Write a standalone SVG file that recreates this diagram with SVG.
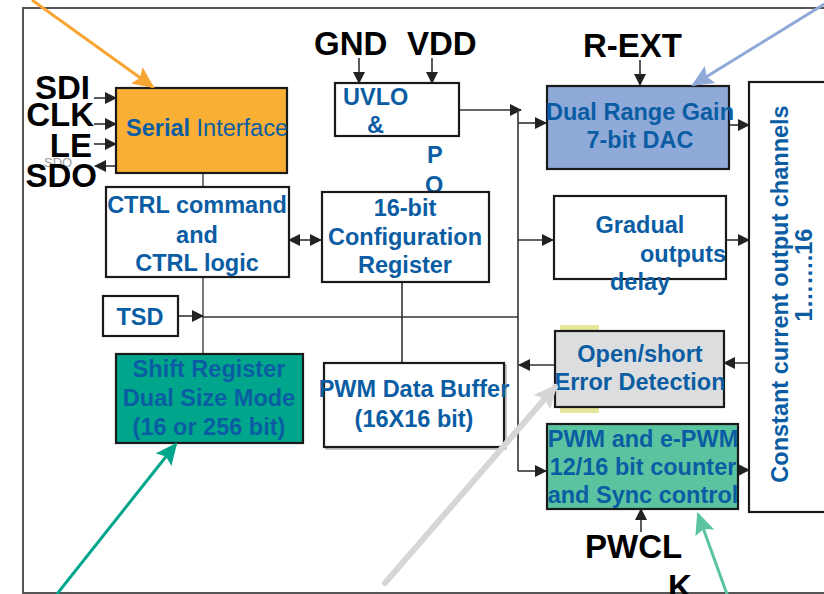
<svg xmlns="http://www.w3.org/2000/svg" width="824" height="594" viewBox="0 0 824 594">
<style>
.box{stroke:#1a1a1a;stroke-width:2.2}
.t{font-family:"Liberation Sans",Arial,sans-serif;font-weight:bold;font-size:23.5px;fill:#0B5DA3;text-anchor:middle}
.t.s{text-anchor:start}
.pin{font-family:"Liberation Sans",Arial,sans-serif;font-weight:bold;font-size:33px;fill:#000}
.ln{fill:none;stroke:#333;stroke-width:1.6}
.gl{fill:none;stroke:#7a7a7a;stroke-width:2}
</style>
<defs>
<marker id="ah" markerUnits="userSpaceOnUse" markerWidth="12" markerHeight="12" refX="11" refY="6" orient="auto-start-reverse">
<path d="M0,0 L12,6 L0,12 z" fill="#222"/>
</marker>
<marker id="ao" markerUnits="userSpaceOnUse" markerWidth="22" markerHeight="20" refX="20" refY="10" orient="auto">
<path d="M0,0 L22,10 L0,20 L4,10 z" fill="#F9A533"/>
</marker>
<marker id="ab" markerUnits="userSpaceOnUse" markerWidth="22" markerHeight="20" refX="20" refY="10" orient="auto">
<path d="M0,0 L22,10 L0,20 L4,10 z" fill="#8FA9D9"/>
</marker>
<marker id="at" markerUnits="userSpaceOnUse" markerWidth="22" markerHeight="20" refX="20" refY="10" orient="auto">
<path d="M0,0 L22,10 L0,20 L4,10 z" fill="#00A68C"/>
</marker>
<marker id="am" markerUnits="userSpaceOnUse" markerWidth="22" markerHeight="20" refX="20" refY="10" orient="auto">
<path d="M0,0 L22,10 L0,20 L4,10 z" fill="#5BC3A0"/>
</marker>
<marker id="ag" markerUnits="userSpaceOnUse" markerWidth="24" markerHeight="22" refX="20" refY="11" orient="auto">
<path d="M0,0 L24,11 L0,22 L4,11 z" fill="#D6D6D6"/>
</marker>
</defs>
<rect width="824" height="594" fill="#fff"/>
<rect x="23" y="8" width="830" height="585" fill="none" stroke="#555" stroke-width="2"/>

<g id="connectors">
<path class="ln" d="M94,98 H116" marker-end="url(#ah)"/>
<path class="ln" d="M94,124 H116" marker-end="url(#ah)"/>
<path class="ln" d="M94,144 H116" marker-end="url(#ah)"/>
<path class="ln" d="M116,166 H95" marker-end="url(#ah)"/>
<path class="gl" d="M203,173 V187 M203,277 V354"/>
<path class="ln" d="M178,316 H203" marker-end="url(#ah)"/>
<path class="ln" d="M203,317 H518"/>
<path class="ln" d="M289,240 H321" marker-start="url(#ah)" marker-end="url(#ah)"/>
<path class="ln" d="M359,58 V83" marker-end="url(#ah)"/>
<path class="ln" d="M432,58 V83" marker-end="url(#ah)"/>
<path class="ln" d="M459,110 H521" marker-end="url(#ah)"/>
<path class="ln" d="M518,109 V471" stroke-width="2.2"/>
<path class="ln" d="M518,123 H546" marker-end="url(#ah)"/>
<path class="ln" d="M518,240 H553" marker-end="url(#ah)"/>
<path class="ln" d="M555,365 H519" marker-end="url(#ah)"/>
<path class="ln" d="M518,471 H546" marker-end="url(#ah)"/>
<path class="ln" d="M402,282 V363"/>
<path class="ln" d="M640,60 V85" marker-end="url(#ah)"/>
<path class="ln" d="M729,125 H749" marker-end="url(#ah)"/>
<path class="ln" d="M726,240 H749" marker-end="url(#ah)"/>
<path class="ln" d="M749,363 H724" marker-end="url(#ah)"/>
<path class="ln" d="M738,470 H749" marker-end="url(#ah)"/>
<path class="ln" d="M641,532 V509" marker-end="url(#ah)"/>
</g>

<g id="pins">
<text class="pin" x="90" y="99" text-anchor="end">SDI</text>
<text class="pin" x="94" y="126" text-anchor="end">CLK</text>
<text x="44" y="167" font-family="Liberation Sans,Arial,sans-serif" font-size="13" fill="#9a9a9a">SDO</text>
<text class="pin" x="92" y="157" text-anchor="end">LE</text>
<text class="pin" x="97" y="187" text-anchor="end">SDO</text>
<text class="pin" x="314" y="55">GND</text>
<text class="pin" x="407" y="55">VDD</text>
<text class="pin" x="583" y="57">R-EXT</text>
<text class="pin" x="585" y="558">PWCL</text>
<text class="pin" x="668" y="598">K</text>
</g>

<g id="serial">
<rect class="box" x="116" y="88" width="171" height="85" fill="#F9AE34"/>
<text class="t s" x="126" y="136"><tspan>Serial</tspan><tspan font-weight="normal"> Interface</tspan></text>
</g>
<g id="ctrl">
<rect class="box" x="106" y="187" width="183" height="90" fill="#fff"/>
<text class="t" x="197" y="213">CTRL command</text>
<text class="t" x="197" y="243">and</text>
<text class="t" x="197" y="271">CTRL logic</text>
</g>
<g id="tsd">
<rect class="box" x="103" y="296" width="75" height="40" fill="#fff"/>
<text class="t" x="140" y="325">TSD</text>
</g>
<g id="shift">
<rect class="box" x="116" y="354" width="187" height="89" fill="#00A68C"/>
<text class="t" x="209" y="377">Shift Register</text>
<text class="t" x="209" y="406">Dual Size Mode</text>
<text class="t" x="209" y="435">(16 or 256 bit)</text>
</g>
<g id="uvlo">
<rect class="box" x="335" y="83" width="124" height="53" fill="#fff"/>
<text class="t s" x="343" y="105">UVLO</text>
<text class="t s" x="367" y="133">&amp;</text>
<text class="t s" x="427" y="163">P</text>
<text class="t s" x="425" y="193">O</text>
</g>
<g id="config">
<rect class="box" x="322" y="192" width="167" height="90" fill="#fff"/>
<text class="t" x="405" y="216">16-bit</text>
<text class="t" x="405" y="245">Configuration</text>
<text class="t" x="405" y="273">Register</text>
</g>
<g id="pwmbuf">
<rect x="326" y="365" width="180" height="84" fill="none" stroke="#888" stroke-width="1"/>
<rect class="box" x="324" y="363" width="180" height="84" fill="#fff"/>
<text class="t" x="414" y="397">PWM Data Buffer</text>
<text class="t" x="414" y="427">(16X16 bit)</text>
</g>
<g id="dac">
<rect class="box" x="547" y="86" width="182" height="83" fill="#8FA9D9"/>
<text class="t" x="640" y="120">Dual Range Gain</text>
<text class="t" x="640" y="148">7-bit DAC</text>
</g>
<g id="gradual">
<rect class="box" x="554" y="196" width="172" height="83" fill="#fff"/>
<text class="t" x="640" y="233">Gradual</text>
<text class="t" x="683" y="262">outputs</text>
<text class="t" x="640" y="290">delay</text>
</g>
<g id="openshort">
<rect x="560" y="325" width="39" height="6" fill="#E6E69A"/>
<rect x="560" y="407" width="39" height="6" fill="#E6E69A"/>
<rect class="box" x="555" y="331" width="169" height="76" fill="#DCDDDF"/>
<text class="t" x="640" y="362">Open/short</text>
<text class="t" x="640" y="390">Error Detection</text>
</g>
<g id="pwm">
<rect class="box" x="547" y="424" width="191" height="85" fill="#5BC3A0"/>
<text class="t" x="643" y="447">PWM and e-PWM</text>
<text class="t" x="643" y="475">12/16 bit counter</text>
<text class="t" x="643" y="503">and Sync control</text>
</g>
<g id="constant">
<rect class="box" x="749" y="82" width="80" height="430" fill="#fff"/>
<text class="t" transform="translate(788,294) rotate(-90)">Constant current output channels</text>
<text class="t" transform="translate(812,275) rotate(-90)">1…….16</text>
</g>

<g id="pointers">
<path d="M32,0 L153,87" stroke="#F9A533" stroke-width="3" fill="none" marker-end="url(#ao)"/>
<path d="M826,3 L693,85" stroke="#8FA9D9" stroke-width="3" fill="none" marker-end="url(#ab)"/>
<path d="M57,594 L176,444" stroke="#00A68C" stroke-width="3" fill="none" marker-end="url(#at)"/>
<path d="M728,597 L698,514" stroke="#5BC3A0" stroke-width="3" fill="none" marker-end="url(#am)"/>
<path d="M385,583 L555,387" stroke="#D6D6D6" stroke-width="6" stroke-linecap="round" fill="none" marker-end="url(#ag)"/>
</g>
</svg>
